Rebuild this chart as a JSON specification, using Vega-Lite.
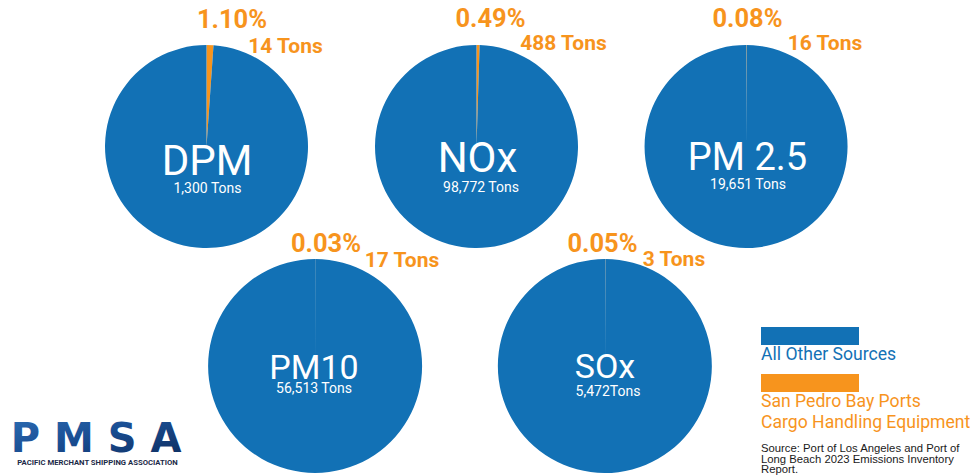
{
  "$schema": "https://vega.github.io/schema/vega-lite/v6.json",
  "background": "white",
  "padding": 0,
  "config": {"view": {"stroke": null}},
  "data": {
    "values": [
      {"pollutant": "DPM", "source": "San Pedro Bay Ports Cargo Handling Equipment", "share": 0.011, "tons": 14, "total": 1300, "tons_label": "14 Tons", "total_label": "1,300 Tons"},
      {"pollutant": "DPM", "source": "All Other Sources", "share": 0.989, "tons": 1286, "total": 1300, "tons_label": "1,286 Tons", "total_label": "1,300 Tons"},
      {"pollutant": "NOx", "source": "San Pedro Bay Ports Cargo Handling Equipment", "share": 0.0049, "tons": 488, "total": 98772, "tons_label": "488 Tons", "total_label": "98,772 Tons"},
      {"pollutant": "NOx", "source": "All Other Sources", "share": 0.9951, "tons": 98284, "total": 98772, "tons_label": "98,284 Tons", "total_label": "98,772 Tons"},
      {"pollutant": "PM 2.5", "source": "San Pedro Bay Ports Cargo Handling Equipment", "share": 0.0008, "tons": 16, "total": 19651, "tons_label": "16 Tons", "total_label": "19,651 Tons"},
      {"pollutant": "PM 2.5", "source": "All Other Sources", "share": 0.9992, "tons": 19635, "total": 19651, "tons_label": "19,635 Tons", "total_label": "19,651 Tons"},
      {"pollutant": "PM10", "source": "San Pedro Bay Ports Cargo Handling Equipment", "share": 0.0003, "tons": 17, "total": 56513, "tons_label": "17 Tons", "total_label": "56,513 Tons"},
      {"pollutant": "PM10", "source": "All Other Sources", "share": 0.9997, "tons": 56496, "total": 56513, "tons_label": "56,496 Tons", "total_label": "56,513 Tons"},
      {"pollutant": "SOx", "source": "San Pedro Bay Ports Cargo Handling Equipment", "share": 0.0005, "tons": 3, "total": 5472, "tons_label": "3 Tons", "total_label": "5,472Tons"},
      {"pollutant": "SOx", "source": "All Other Sources", "share": 0.9995, "tons": 5469, "total": 5472, "tons_label": "5,469 Tons", "total_label": "5,472Tons"}
    ]
  },
  "columns": 4,
  "align": "each",
  "bounds": "flush",
  "spacing": {"row": 0, "column": 0},
  "concat": [
    {
      "width": 160, "height": 293,
      "data": {"values": []},
      "mark": {"type": "text"},
      "encoding": {}
    },
    {
      "width": 93, "height": 293,
      "transform": [{"filter": "datum.pollutant === 'DPM'"}],
      "layer": [
        {"mark": {"type": "arc", "radius": 101.5},
         "encoding": {
           "theta": {"field": "share", "type": "quantitative", "stack": true},
           "order": {"field": "share", "type": "quantitative", "sort": "ascending"},
           "color": {"field": "source", "type": "nominal",
             "scale": {"domain": ["All Other Sources", "San Pedro Bay Ports Cargo Handling Equipment"], "range": ["#1271b5", "#f7941d"]},
             "legend": {"title": null, "orient": "none", "legendX": 761, "legendY": 320, "direction": "vertical",
               "symbolType": "M-1,-0.825H1.45V-0.375H-1Z", "symbolSize": 6400, "symbolStrokeWidth": 0,
               "labelOffset": -80, "labelBaseline": "alphabetic", "labelFont": "Roboto", "labelFontSize": 17.6, "labelLimit": 400,
               "rowPadding": 3,
               "labelExpr": "datum.label === 'San Pedro Bay Ports Cargo Handling Equipment' ? ['San Pedro Bay Ports', 'Cargo Handling Equipment'] : datum.label",
               "encode": {"labels": {"update": {"fill": {"scale": "color", "field": "value"}, "lineHeight": {"value": 21}}}}}}
         }},
        {"transform": [{"filter": "datum.source === 'All Other Sources'"}],
         "mark": {"type": "text", "font": "Roboto", "fontSize": 42, "color": "white", "baseline": "alphabetic", "dx": 0.5, "dy": 28.5},
         "encoding": {"text": {"field": "pollutant"}}},
        {"transform": [{"filter": "datum.source === 'All Other Sources'"}],
         "mark": {"type": "text", "font": "Roboto", "fontSize": 14, "color": "white", "baseline": "alphabetic", "dx": 1, "dy": 46},
         "encoding": {"text": {"field": "total_label"}}},
        {"transform": [{"filter": "datum.source !== 'All Other Sources'"}],
         "mark": {"type": "text", "font": "Roboto", "fontWeight": "bold", "fontSize": 25.5, "color": "#f7941d", "baseline": "alphabetic", "dx": 25.5, "dy": -118.5},
         "encoding": {"text": {"field": "share", "type": "quantitative", "format": ".2%"}}},
        {"transform": [{"filter": "datum.source !== 'All Other Sources'"}],
         "mark": {"type": "text", "font": "Roboto", "fontWeight": "bold", "fontSize": 21, "color": "#f7941d", "baseline": "alphabetic", "dx": 79, "dy": -93.5},
         "encoding": {"text": {"field": "tons_label"}}}
      ]
    },
    {
      "width": 13, "height": 293,
      "transform": [{"filter": "datum.pollutant === 'NOx'"}],
      "layer": [
        {"mark": {"type": "arc", "radius": 101.5},
         "encoding": {
           "theta": {"field": "share", "type": "quantitative", "stack": true},
           "order": {"field": "share", "type": "quantitative", "sort": "ascending"},
           "color": {"field": "source", "type": "nominal",
             "scale": {"domain": ["All Other Sources", "San Pedro Bay Ports Cargo Handling Equipment"], "range": ["#1271b5", "#f7941d"]}}
         }},
        {"transform": [{"filter": "datum.source === 'All Other Sources'"}],
         "mark": {"type": "text", "font": "Roboto", "fontSize": 42, "color": "white", "baseline": "alphabetic", "dx": 1, "dy": 25.5},
         "encoding": {"text": {"field": "pollutant"}}},
        {"transform": [{"filter": "datum.source === 'All Other Sources'"}],
         "mark": {"type": "text", "font": "Roboto", "fontSize": 14, "color": "white", "baseline": "alphabetic", "dx": 4.5, "dy": 45.5},
         "encoding": {"text": {"field": "total_label"}}},
        {"transform": [{"filter": "datum.source !== 'All Other Sources'"}],
         "mark": {"type": "text", "font": "Roboto", "fontWeight": "bold", "fontSize": 25.5, "color": "#f7941d", "baseline": "alphabetic", "dx": 14, "dy": -119.5},
         "encoding": {"text": {"field": "share", "type": "quantitative", "format": ".2%"}}},
        {"transform": [{"filter": "datum.source !== 'All Other Sources'"}],
         "mark": {"type": "text", "font": "Roboto", "fontWeight": "bold", "fontSize": 21, "color": "#f7941d", "baseline": "alphabetic", "dx": 87, "dy": -96.5},
         "encoding": {"text": {"field": "tons_label"}}}
      ]
    },
    {
      "width": 12, "height": 293,
      "transform": [{"filter": "datum.pollutant === 'PM 2.5'"}],
      "layer": [
        {"mark": {"type": "arc", "radius": 101.5},
         "encoding": {
           "theta": {"field": "share", "type": "quantitative", "stack": true},
           "order": {"field": "share", "type": "quantitative", "sort": "ascending"},
           "color": {"field": "source", "type": "nominal",
             "scale": {"domain": ["All Other Sources", "San Pedro Bay Ports Cargo Handling Equipment"], "range": ["#1271b5", "#f7941d"]}}
         }},
        {"transform": [{"filter": "datum.source === 'All Other Sources'"}],
         "mark": {"type": "text", "font": "Roboto", "fontSize": 38, "color": "white", "baseline": "alphabetic", "dx": 1.5, "dy": 23.5},
         "encoding": {"text": {"field": "pollutant"}}},
        {"transform": [{"filter": "datum.source === 'All Other Sources'"}],
         "mark": {"type": "text", "font": "Roboto", "fontSize": 14, "color": "white", "baseline": "alphabetic", "dx": 2, "dy": 42.5},
         "encoding": {"text": {"field": "total_label"}}},
        {"transform": [{"filter": "datum.source !== 'All Other Sources'"}],
         "mark": {"type": "text", "font": "Roboto", "fontWeight": "bold", "fontSize": 25.5, "color": "#f7941d", "baseline": "alphabetic", "dx": 1.5, "dy": -119.5},
         "encoding": {"text": {"field": "share", "type": "quantitative", "format": ".2%"}}},
        {"transform": [{"filter": "datum.source !== 'All Other Sources'"}],
         "mark": {"type": "text", "font": "Roboto", "fontWeight": "bold", "fontSize": 21, "color": "#f7941d", "baseline": "alphabetic", "dx": 79, "dy": -96.5},
         "encoding": {"text": {"field": "tons_label"}}}
      ]
    },
    {
      "width": 160, "height": 146,
      "data": {"values": [{"org": "PMSA", "org_name": "PACIFIC MERCHANT SHIPPING ASSOCIATION"}]},
      "layer": [
        {"mark": {"type": "text", "font": "DejaVu Sans", "fontWeight": "bold", "fontSize": 40, "baseline": "alphabetic", "dx": 16, "dy": 86,
           "color": {"gradient": "linear", "x1": 0, "y1": 0, "x2": 1, "y2": 1,
             "stops": [{"offset": 0, "color": "#2c6db4"}, {"offset": 0.45, "color": "#1a4e93"}, {"offset": 1, "color": "#0d2b5c"}]}},
         "encoding": {"text": {"value": "P M S A"}}},
        {"mark": {"type": "text", "font": "Roboto", "fontWeight": "bold", "fontSize": 7.7, "color": "#1c2a48", "baseline": "alphabetic", "dx": 17.5, "dy": 99},
         "encoding": {"text": {"field": "org_name"}}}
      ]
    },
    {
      "width": 310, "height": 146,
      "transform": [{"filter": "datum.pollutant === 'PM10'"}],
      "layer": [
        {"mark": {"type": "arc", "radius": 107},
         "encoding": {
           "theta": {"field": "share", "type": "quantitative", "stack": true},
           "order": {"field": "share", "type": "quantitative", "sort": "ascending"},
           "color": {"field": "source", "type": "nominal",
             "scale": {"domain": ["All Other Sources", "San Pedro Bay Ports Cargo Handling Equipment"], "range": ["#1271b5", "#f7941d"]}}
         }},
        {"transform": [{"filter": "datum.source === 'All Other Sources'"}],
         "mark": {"type": "text", "font": "Roboto", "fontSize": 34, "color": "white", "baseline": "alphabetic", "dx": -1, "dy": 13},
         "encoding": {"text": {"field": "pollutant"}}},
        {"transform": [{"filter": "datum.source === 'All Other Sources'"}],
         "mark": {"type": "text", "font": "Roboto", "fontSize": 14, "color": "white", "baseline": "alphabetic", "dx": -1, "dy": 27},
         "encoding": {"text": {"field": "total_label"}}},
        {"transform": [{"filter": "datum.source !== 'All Other Sources'"}],
         "mark": {"type": "text", "font": "Roboto", "fontWeight": "bold", "fontSize": 25.5, "color": "#f7941d", "baseline": "alphabetic", "dx": 11, "dy": -114},
         "encoding": {"text": {"field": "share", "type": "quantitative", "format": ".2%"}}},
        {"transform": [{"filter": "datum.source !== 'All Other Sources'"}],
         "mark": {"type": "text", "font": "Roboto", "fontWeight": "bold", "fontSize": 21, "color": "#f7941d", "baseline": "alphabetic", "dx": 87, "dy": -99},
         "encoding": {"text": {"field": "tons_label"}}}
      ]
    },
    {
      "width": 270, "height": 146,
      "transform": [{"filter": "datum.pollutant === 'SOx'"}],
      "layer": [
        {"mark": {"type": "arc", "radius": 107},
         "encoding": {
           "theta": {"field": "share", "type": "quantitative", "stack": true},
           "order": {"field": "share", "type": "quantitative", "sort": "ascending"},
           "color": {"field": "source", "type": "nominal",
             "scale": {"domain": ["All Other Sources", "San Pedro Bay Ports Cargo Handling Equipment"], "range": ["#1271b5", "#f7941d"]}}
         }},
        {"transform": [{"filter": "datum.source === 'All Other Sources'"}],
         "mark": {"type": "text", "font": "Roboto", "fontSize": 34, "color": "white", "baseline": "alphabetic", "dx": 0, "dy": 12},
         "encoding": {"text": {"field": "pollutant"}}},
        {"transform": [{"filter": "datum.source === 'All Other Sources'"}],
         "mark": {"type": "text", "font": "Roboto", "fontSize": 14, "color": "white", "baseline": "alphabetic", "dx": 3, "dy": 29.5},
         "encoding": {"text": {"field": "total_label"}}},
        {"transform": [{"filter": "datum.source !== 'All Other Sources'"}],
         "mark": {"type": "text", "font": "Roboto", "fontWeight": "bold", "fontSize": 25.5, "color": "#f7941d", "baseline": "alphabetic", "dx": -2.5, "dy": -114},
         "encoding": {"text": {"field": "share", "type": "quantitative", "format": ".2%"}}},
        {"transform": [{"filter": "datum.source !== 'All Other Sources'"}],
         "mark": {"type": "text", "font": "Roboto", "fontWeight": "bold", "fontSize": 21, "color": "#f7941d", "baseline": "alphabetic", "dx": 69, "dy": -100},
         "encoding": {"text": {"field": "tons_label"}}}
      ]
    },
    {
      "width": 200, "height": 146,
      "data": {"values": [{"note": "Source: Port of Los Angeles and Port of\nLong Beach 2023 Emissions Inventory\nReport."}]},
      "mark": {"type": "text", "font": "Liberation Sans", "fontSize": 11.3, "lineHeight": 10.7, "lineBreak": "\n", "align": "left", "baseline": "alphabetic", "dx": -79, "dy": 86, "color": "#1a1a1a"},
      "encoding": {"text": {"field": "note"}}
    }
  ]
}
